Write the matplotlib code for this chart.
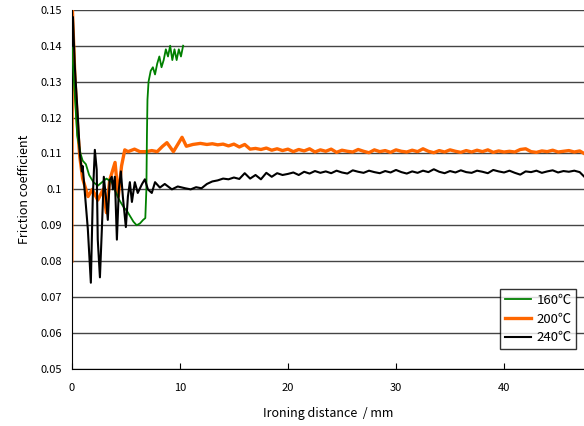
import matplotlib
matplotlib.use("Agg")
import matplotlib.pyplot as plt

plt.rcParams['font.family'] = ['Noto Sans CJK JP', 'DejaVu Sans']

# 160℃ (green)
x160 = [0, 0.1, 0.3, 0.5, 0.8, 1.0, 1.3, 1.6, 2.0, 2.4, 2.8, 3.2, 3.7, 4.1, 4.4,
        4.8, 5.1, 5.4, 5.7, 6.0, 6.3, 6.6, 6.8, 6.9, 6.95, 7.0, 7.1, 7.3, 7.5,
        7.7, 7.9, 8.1, 8.3, 8.5, 8.7, 8.9, 9.1, 9.3, 9.5, 9.7, 9.9, 10.1, 10.3]
y160 = [0.140, 0.135, 0.125, 0.115, 0.110, 0.108, 0.107, 0.104, 0.102, 0.101,
        0.102, 0.103, 0.102, 0.099, 0.097, 0.095, 0.094, 0.0925, 0.091, 0.090,
        0.0905, 0.0915, 0.092, 0.100, 0.115, 0.125, 0.130, 0.133, 0.134, 0.132,
        0.135, 0.137, 0.134, 0.136, 0.139, 0.137, 0.140, 0.136, 0.139, 0.136,
        0.139, 0.137, 0.140]

# 200℃ (orange)
x200 = [0, 0.05, 0.3, 0.56, 0.74, 1.0, 1.5, 1.9, 2.4, 2.9, 3.2, 3.5, 4.0, 4.3,
        4.6, 4.9, 5.2, 5.8, 6.3, 6.9, 7.4, 7.9, 8.4, 8.8, 9.4, 10.2, 10.6, 11.2,
        11.9, 12.5, 13.0, 13.5, 14.0, 14.5, 15.0, 15.5, 16.0, 16.5, 17.0, 17.5,
        18.0, 18.5, 19.0, 19.5, 20.0, 20.5, 21.0, 21.5, 22.0, 22.5, 23.0, 23.5,
        24.0, 24.5, 25.0, 25.5, 26.0, 26.5, 27.0, 27.5, 28.0, 28.5, 29.0, 29.5,
        30.0, 30.5, 31.0, 31.5, 32.0, 32.5, 33.0, 33.5, 34.0, 34.5, 35.0, 35.5,
        36.0, 36.5, 37.0, 37.5, 38.0, 38.5, 39.0, 39.5, 40.0, 40.5, 41.0, 41.5,
        42.0, 42.5, 43.0, 43.5, 44.0, 44.5, 45.0, 45.5, 46.0, 46.5, 47.0, 47.4]
y200 = [0.080, 0.150, 0.130, 0.116, 0.109, 0.103, 0.098, 0.100, 0.097, 0.100,
        0.0935, 0.1025, 0.1075, 0.098, 0.1065, 0.111, 0.1105, 0.1112, 0.1105,
        0.1105, 0.1108, 0.1105, 0.112, 0.113, 0.1105, 0.1145, 0.112, 0.1125,
        0.1128, 0.1125, 0.1127, 0.1124, 0.1126, 0.1121, 0.1126, 0.1118, 0.1125,
        0.1112, 0.1114, 0.1111, 0.1115, 0.1109, 0.1113, 0.1108, 0.1112, 0.1105,
        0.1111, 0.1107, 0.1113, 0.1104, 0.1110, 0.1106, 0.1112, 0.1103, 0.1109,
        0.1106, 0.1104, 0.1111, 0.1106, 0.1102, 0.1110, 0.1105, 0.1108, 0.1103,
        0.1110, 0.1106, 0.1104, 0.1109, 0.1105, 0.1113, 0.1106, 0.1102, 0.1108,
        0.1104, 0.1110, 0.1106, 0.1103, 0.1108, 0.1104, 0.1109, 0.1105, 0.1110,
        0.1103, 0.1107, 0.1104, 0.1106, 0.1104, 0.1111, 0.1113, 0.1105, 0.1103,
        0.1107, 0.1105, 0.1109, 0.1104, 0.1106, 0.1108, 0.1104, 0.1107, 0.1100]

# 240℃ (black)
x240 = [0.05, 0.1, 0.28, 0.56, 0.74, 0.93, 1.0, 1.48, 1.76, 1.94, 2.13, 2.3,
        2.4, 2.6, 2.78, 2.96, 3.15, 3.33, 3.5, 3.7, 3.8, 3.98, 4.17, 4.35, 4.54,
        4.72, 5.0, 5.19, 5.37, 5.56, 5.83, 6.1, 6.5, 6.76, 7.04, 7.4, 7.7, 8.15,
        8.6, 9.26, 9.8, 10.5, 11.0, 11.5, 12.0, 12.5, 13.0, 13.5, 14.0, 14.5,
        15.0, 15.5, 16.0, 16.5, 17.0, 17.5, 18.0, 18.5, 19.0, 19.5, 20.0, 20.5,
        21.0, 21.5, 22.0, 22.5, 23.0, 23.5, 24.0, 24.5, 25.0, 25.5, 26.0, 26.5,
        27.0, 27.5, 28.0, 28.5, 29.0, 29.5, 30.0, 30.5, 31.0, 31.5, 32.0, 32.5,
        33.0, 33.5, 34.0, 34.5, 35.0, 35.5, 36.0, 36.5, 37.0, 37.5, 38.0, 38.5,
        39.0, 39.5, 40.0, 40.5, 41.0, 41.5, 42.0, 42.5, 43.0, 43.5, 44.0, 44.5,
        45.0, 45.5, 46.0, 46.5, 47.0, 47.4]
y240 = [0.140, 0.148, 0.134, 0.120, 0.110, 0.105, 0.1065, 0.089, 0.074, 0.098,
        0.111, 0.1055, 0.086, 0.0755, 0.089, 0.1035, 0.098, 0.0915, 0.1025,
        0.1035, 0.100, 0.1035, 0.086, 0.100, 0.105, 0.098, 0.0895, 0.098, 0.102,
        0.0965, 0.102, 0.099, 0.1015, 0.1028, 0.100, 0.099, 0.102, 0.1005,
        0.1015, 0.100, 0.1008, 0.1003, 0.1000, 0.1006, 0.1003, 0.1015, 0.1022,
        0.1025, 0.1030, 0.1028, 0.1033, 0.1029, 0.1045, 0.1030, 0.1040, 0.1028,
        0.1046, 0.1035, 0.1045, 0.1040, 0.1043, 0.1047, 0.1040, 0.1049, 0.1044,
        0.1051, 0.1046, 0.1050, 0.1045, 0.1052, 0.1047, 0.1044, 0.1053, 0.1049,
        0.1046, 0.1052, 0.1048, 0.1045, 0.1051, 0.1047, 0.1054, 0.1048, 0.1044,
        0.1050, 0.1046, 0.1052, 0.1048, 0.1056, 0.1049, 0.1045, 0.1051, 0.1047,
        0.1053, 0.1048, 0.1046, 0.1052, 0.1049, 0.1045, 0.1054, 0.1050, 0.1047,
        0.1052, 0.1046, 0.1041, 0.1050, 0.1048, 0.1052, 0.1046, 0.1050, 0.1053,
        0.1047, 0.1051, 0.1049, 0.1052, 0.1048, 0.1036]

labels = ['160℃', '200℃', '240℃']
colors = ['#008000', '#ff6600', '#000000']

fig = plt.figure(figsize=(5.84, 4.26), dpi=100)
ax = fig.add_axes([0.123, 0.134, 0.877, 0.843])

ax.plot(x160, y160, color=colors[0], lw=1.3, label=labels[0], zorder=3)
ax.plot(x200, y200, color=colors[1], lw=2.4, label=labels[1], zorder=2)
ax.plot(x240, y240, color=colors[2], lw=1.5, label=labels[2], zorder=4)

ax.set_xlim(0, 47.4)
ax.set_ylim(0.05, 0.15)
ax.set_xticks([0, 10, 20, 30, 40])
ax.set_yticks([0.05 + 0.01 * i for i in range(11)])
ax.set_yticklabels(['0.1' if i == 5 else '%.2f' % (0.05 + 0.01 * i)
                    for i in range(11)])
ax.grid(axis='y', color='#444444', lw=1)
ax.set_axisbelow(True)
ax.tick_params(axis='x', direction='in', length=4, labelsize=8, pad=10)
ax.tick_params(axis='y', length=0, labelsize=8, pad=7)
for s in ['top', 'right']:
    ax.spines[s].set_visible(False)

ax.set_xlabel('Ironing distance  / mm', fontsize=9, labelpad=10)
ax.set_ylabel('Friction coefficient', fontsize=9, labelpad=7)

leg = ax.legend(loc='lower right', bbox_to_anchor=(0.985, 0.056), fontsize=9.5,
                frameon=True, fancybox=False, edgecolor='black',
                handlelength=2.0, borderpad=0.35, labelspacing=0.42,
                handletextpad=0.4, borderaxespad=0)
leg.get_frame().set_linewidth(1)

fig.savefig('out.png', dpi=100)
